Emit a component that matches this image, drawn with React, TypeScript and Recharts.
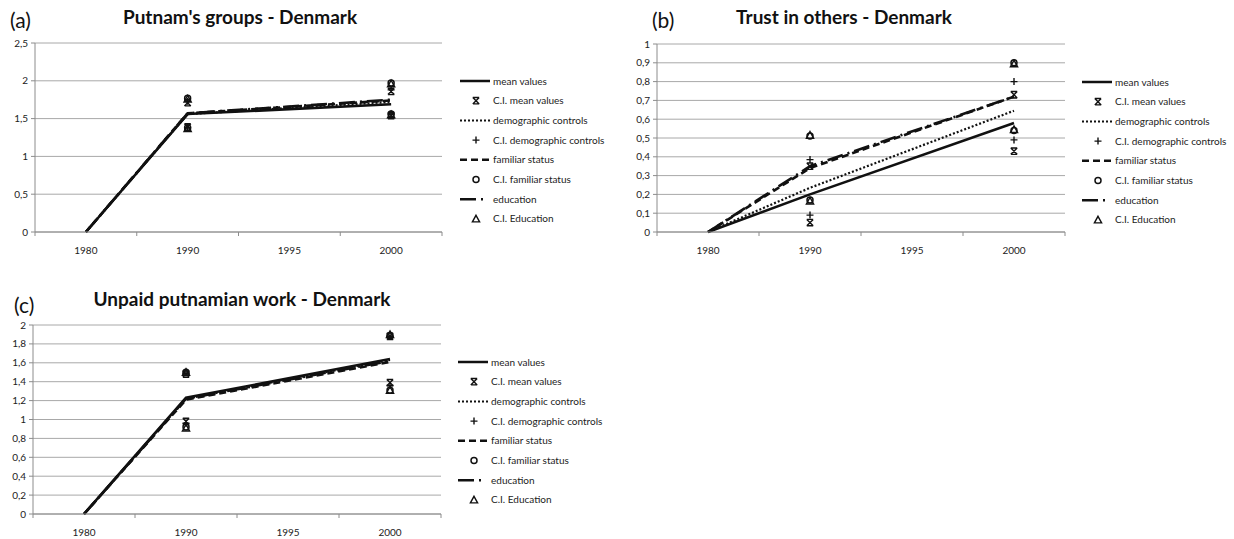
import { LineChart, Line, XAxis, YAxis, CartesianGrid } from "recharts";

type Num = number | null;

const years = ["1980", "1990", "1995", "2000"];

// (a) Putnam's groups - Denmark
const groupsMean: Num[] = [0, 1.56, null, 1.69];
const groupsDemo: Num[] = [0, 1.56, null, 1.72];
const groupsFam: Num[] = [0, 1.57, null, 1.74];
const groupsEdu: Num[] = [0, 1.57, null, 1.75];
const groupsCiMeanHi: Num[] = [null, 1.71, null, 1.86];
const groupsCiMeanLo: Num[] = [null, 1.39, null, 1.54];
const groupsCiDemoHi: Num[] = [null, 1.73, null, 1.88];
const groupsCiDemoLo: Num[] = [null, 1.38, null, 1.56];
const groupsCiFamHi: Num[] = [null, 1.77, null, 1.97];
const groupsCiFamLo: Num[] = [null, 1.38, null, 1.56];
const groupsCiEduHi: Num[] = [null, 1.76, null, 1.96];
const groupsCiEduLo: Num[] = [null, 1.37, null, 1.55];
const groupsTicks = [0, 0.5, 1, 1.5, 2, 2.5];

// (b) Trust in others - Denmark
const trustMean: Num[] = [0, 0.2, null, 0.58];
const trustDemo: Num[] = [0, 0.235, null, 0.645];
const trustFam: Num[] = [0, 0.34, null, 0.72];
const trustEdu: Num[] = [0, 0.35, null, 0.72];
const trustCiMeanHi: Num[] = [null, 0.35, null, 0.73];
const trustCiMeanLo: Num[] = [null, 0.05, null, 0.43];
const trustCiDemoHi: Num[] = [null, 0.385, null, 0.8];
const trustCiDemoLo: Num[] = [null, 0.09, null, 0.49];
const trustCiFamHi: Num[] = [null, 0.51, null, 0.9];
const trustCiFamLo: Num[] = [null, 0.17, null, 0.54];
const trustCiEduHi: Num[] = [null, 0.515, null, 0.895];
const trustCiEduLo: Num[] = [null, 0.165, null, 0.545];
const trustTicks = [0, 0.1, 0.2, 0.3, 0.4, 0.5, 0.6, 0.7, 0.8, 0.9, 1];

// (c) Unpaid putnamian work - Denmark
const workMean: Num[] = [0, 1.23, null, 1.64];
const workDemo: Num[] = [0, 1.22, null, 1.63];
const workFam: Num[] = [0, 1.21, null, 1.61];
const workEdu: Num[] = [0, 1.22, null, 1.62];
const workCiMeanHi: Num[] = [null, 1.48, null, 1.88];
const workCiMeanLo: Num[] = [null, 0.98, null, 1.39];
const workCiDemoHi: Num[] = [null, 1.49, null, 1.88];
const workCiDemoLo: Num[] = [null, 0.96, null, 1.36];
const workCiFamHi: Num[] = [null, 1.5, null, 1.89];
const workCiFamLo: Num[] = [null, 0.92, null, 1.31];
const workCiEduHi: Num[] = [null, 1.5, null, 1.9];
const workCiEduLo: Num[] = [null, 0.91, null, 1.31];
const workTicks = [0, 0.2, 0.4, 0.6, 0.8, 1, 1.2, 1.4, 1.6, 1.8, 2];

const legendLabels = [
    "mean values",
    "C.I. mean values",
    "demographic controls",
    "C.I. demographic controls",
    "familiar status",
    "C.I. familiar status",
    "education",
    "C.I. Education",
];

const FONT = "Lato, 'Open Sans', sans-serif";
const INK = "#111";
const AXIS = "#8c8c8c";
const GRID = "#a8a8a8";

const W = 460;
const H = 266;

function buildRows(series: Record<string, Num[]>) {
    return years.map((year, i) => {
        const row: Record<string, any> = { year };
        Object.keys(series).forEach((k) => {
            row[k] = series[k][i];
        });
        return row;
    });
}

const comma = (v: number) => String(v).replace(".", ",");

type Kind = "x" | "plus" | "circle" | "triangle";

function marker(kind: Kind, cx: number, cy: number, key: string) {
    const s = 3.2;
    if (kind === "x") {
        return (
            <path
                key={key}
                d={`M${cx - s},${cy - s}L${cx + s},${cy + s}M${cx + s},${cy - s}L${cx - s},${cy + s}M${cx - s},${cy - s}H${cx + s}M${cx - s},${cy + s}H${cx + s}`}
                stroke={INK}
                strokeWidth={1.4}
                fill="none"
            />
        );
    }
    if (kind === "plus") {
        return (
            <path
                key={key}
                d={`M${cx - 3.5},${cy}H${cx + 3.5}M${cx},${cy - 3.5}V${cy + 3.5}`}
                stroke={INK}
                strokeWidth={1.4}
                fill="none"
            />
        );
    }
    if (kind === "circle") {
        return <circle key={key} cx={cx} cy={cy} r={3} stroke={INK} strokeWidth={1.5} fill="none" />;
    }
    return (
        <path
            key={key}
            d={`M${cx},${cy - 3.6}L${cx + 3.6},${cy + 3}L${cx - 3.6},${cy + 3}Z`}
            stroke={INK}
            strokeWidth={1.4}
            fill="none"
        />
    );
}

const ciDot = (kind: Kind, name: string) => (p: any) => {
    const key = `${name}-${p.index}`;
    if (p.value == null || p.cy == null || Number.isNaN(p.cy)) return <g key={key} />;
    return marker(kind, p.cx, p.cy, key);
};

// Excel style category axis: labels centred, ticks between categories
const makeXTick = (band: number, count: number) => (p: any) => {
    const { x, y, payload, index } = p;
    return (
        <g>
            <line x1={x - band / 2} y1={y} x2={x - band / 2} y2={y + 4} stroke={AXIS} />
            {index === count - 1 && (
                <line x1={x + band / 2} y1={y} x2={x + band / 2} y2={y + 4} stroke={AXIS} />
            )}
            <text x={x} y={y + 22} textAnchor="middle" fontSize={10} fontFamily={FONT} fill="#222">
                {payload.value}
            </text>
        </g>
    );
};

function LegendBox({ left, top }: { left: number; top: number }) {
    const rowH = 19.7;
    const swatch = (i: number, y: number) => {
        switch (i) {
            case 0:
                return <line x1={0} y1={y} x2={30} y2={y} stroke={INK} strokeWidth={2.5} />;
            case 2:
                return <line x1={0} y1={y} x2={30} y2={y} stroke={INK} strokeWidth={2} strokeDasharray="2 2" />;
            case 4:
                return <line x1={0} y1={y} x2={30} y2={y} stroke={INK} strokeWidth={2.5} strokeDasharray="7 4" />;
            case 6:
                return <line x1={0} y1={y} x2={30} y2={y} stroke={INK} strokeWidth={2.5} strokeDasharray="16 5 2 10" />;
            case 1:
                return marker("x", 16, y, "lx");
            case 3:
                return marker("plus", 16, y, "lp");
            case 5:
                return marker("circle", 16, y, "lc");
            default:
                return marker("triangle", 16, y, "lt");
        }
    };
    return (
        <svg
            width={180}
            height={170}
            style={{ position: "absolute", left, top, overflow: "visible" }}
        >
            {legendLabels.map((label, i) => {
                const y = 6 + i * rowH;
                return (
                    <g key={label}>
                        {swatch(i, y)}
                        <text x={33} y={y + 3.5} fontSize={10} fontFamily={FONT} fill="#222">
                            {label}
                        </text>
                    </g>
                );
            })}
        </svg>
    );
}

type PanelProps = {
    left: number;
    top: number;
    tag: string;
    tagLeft: number;
    tagTop: number;
    title: string;
    titleCenter: number;
    margin: { top: number; right: number; bottom: number; left: number };
    yMax: number;
    ticks: number[];
    data: Record<string, any>[];
    legendLeft: number;
    legendTop: number;
};

function Panel(props: PanelProps) {
    const { left, top, tag, tagLeft, tagTop, title, titleCenter, margin, yMax, ticks, data } = props;
    const yWidth = 30;
    const band = (W - margin.left - margin.right - yWidth) / years.length;
    return (
        <>
            <div style={{ position: "absolute", left, top, width: W, height: H }}>
                <div
                    style={{
                        position: "absolute",
                        left: tagLeft,
                        top: tagTop,
                        fontFamily: FONT,
                        fontSize: 21,
                        lineHeight: "24px",
                        color: "#111",
                    }}
                >
                    {tag}
                </div>
                <div
                    style={{
                        position: "absolute",
                        left: titleCenter - 200,
                        width: 400,
                        top: 6,
                        textAlign: "center",
                        fontFamily: FONT,
                        fontWeight: 700,
                        fontSize: 19,
                        lineHeight: "22px",
                        color: "#111",
                    }}
                >
                    {title}
                </div>
                <LineChart width={W} height={H} data={data} margin={margin}>
                    <CartesianGrid vertical={false} stroke={GRID} strokeWidth={1} />
                    <XAxis
                        dataKey="year"
                        type="category"
                        interval={0}
                        padding={{ left: band / 2, right: band / 2 }}
                        tickLine={false}
                        tickSize={0}
                        tickMargin={0}
                        height={30}
                        axisLine={{ stroke: AXIS }}
                        tick={makeXTick(band, years.length)}
                    />
                    <YAxis
                        type="number"
                        domain={[0, yMax]}
                        ticks={ticks}
                        interval={0}
                        width={yWidth}
                        tickSize={4}
                        tickMargin={3}
                        tickFormatter={comma}
                        axisLine={{ stroke: AXIS }}
                        tickLine={{ stroke: AXIS }}
                        tick={{ fontSize: 10, fontFamily: FONT, fill: "#222" }}
                    />
                    <Line dataKey="mean" stroke={INK} strokeWidth={2.6} dot={false} activeDot={false} connectNulls isAnimationActive={false} />
                    <Line dataKey="demo" stroke={INK} strokeWidth={2.2} strokeDasharray="2 2" dot={false} activeDot={false} connectNulls isAnimationActive={false} />
                    <Line dataKey="fam" stroke={INK} strokeWidth={2.6} strokeDasharray="7 4" dot={false} activeDot={false} connectNulls isAnimationActive={false} />
                    <Line dataKey="edu" stroke={INK} strokeWidth={2.6} strokeDasharray="16 5 2 5" dot={false} activeDot={false} connectNulls isAnimationActive={false} />
                    <Line dataKey="ciMeanHi" stroke="none" dot={ciDot("x", "mh")} activeDot={false} isAnimationActive={false} />
                    <Line dataKey="ciMeanLo" stroke="none" dot={ciDot("x", "ml")} activeDot={false} isAnimationActive={false} />
                    <Line dataKey="ciDemoHi" stroke="none" dot={ciDot("plus", "dh")} activeDot={false} isAnimationActive={false} />
                    <Line dataKey="ciDemoLo" stroke="none" dot={ciDot("plus", "dl")} activeDot={false} isAnimationActive={false} />
                    <Line dataKey="ciFamHi" stroke="none" dot={ciDot("circle", "fh")} activeDot={false} isAnimationActive={false} />
                    <Line dataKey="ciFamLo" stroke="none" dot={ciDot("circle", "fl")} activeDot={false} isAnimationActive={false} />
                    <Line dataKey="ciEduHi" stroke="none" dot={ciDot("triangle", "eh")} activeDot={false} isAnimationActive={false} />
                    <Line dataKey="ciEduLo" stroke="none" dot={ciDot("triangle", "el")} activeDot={false} isAnimationActive={false} />
                </LineChart>
            </div>
            <LegendBox left={props.legendLeft} top={props.legendTop} />
        </>
    );
}

const groupsData = buildRows({
    mean: groupsMean, demo: groupsDemo, fam: groupsFam, edu: groupsEdu,
    ciMeanHi: groupsCiMeanHi, ciMeanLo: groupsCiMeanLo,
    ciDemoHi: groupsCiDemoHi, ciDemoLo: groupsCiDemoLo,
    ciFamHi: groupsCiFamHi, ciFamLo: groupsCiFamLo,
    ciEduHi: groupsCiEduHi, ciEduLo: groupsCiEduLo,
});

const trustData = buildRows({
    mean: trustMean, demo: trustDemo, fam: trustFam, edu: trustEdu,
    ciMeanHi: trustCiMeanHi, ciMeanLo: trustCiMeanLo,
    ciDemoHi: trustCiDemoHi, ciDemoLo: trustCiDemoLo,
    ciFamHi: trustCiFamHi, ciFamLo: trustCiFamLo,
    ciEduHi: trustCiEduHi, ciEduLo: trustCiEduLo,
});

const workData = buildRows({
    mean: workMean, demo: workDemo, fam: workFam, edu: workEdu,
    ciMeanHi: workCiMeanHi, ciMeanLo: workCiMeanLo,
    ciDemoHi: workCiDemoHi, ciDemoLo: workCiDemoLo,
    ciFamHi: workCiFamHi, ciFamLo: workCiFamLo,
    ciEduHi: workCiEduHi, ciEduLo: workCiEduLo,
});

export default function App() {
    return (
        <div style={{ position: "relative", width: 1234, height: 539, background: "#fff", overflow: "hidden" }}>
            <style>{"body{margin:0;background:#fff}"}</style>
            <Panel
                left={0}
                top={0}
                tag="(a)"
                tagLeft={10}
                tagTop={8}
                title="Putnam's groups - Denmark"
                titleCenter={240}
                margin={{ top: 43, right: 18, bottom: 4, left: 5 }}
                yMax={2.5}
                ticks={groupsTicks}
                data={groupsData}
                legendLeft={460}
                legendTop={75}
            />
            <Panel
                left={620}
                top={0}
                tag="(b)"
                tagLeft={32}
                tagTop={8}
                title="Trust in others - Denmark"
                titleCenter={224}
                margin={{ top: 44, right: 15, bottom: 4, left: 7 }}
                yMax={1}
                ticks={trustTicks}
                data={trustData}
                legendLeft={1082}
                legendTop={76}
            />
            <Panel
                left={0}
                top={282}
                tag="(c)"
                tagLeft={14}
                tagTop={11}
                title="Unpaid putnamian work - Denmark"
                titleCenter={242}
                margin={{ top: 43, right: 19, bottom: 4, left: 3 }}
                yMax={2}
                ticks={workTicks}
                data={workData}
                legendLeft={458}
                legendTop={356}
            />
        </div>
    );
}
